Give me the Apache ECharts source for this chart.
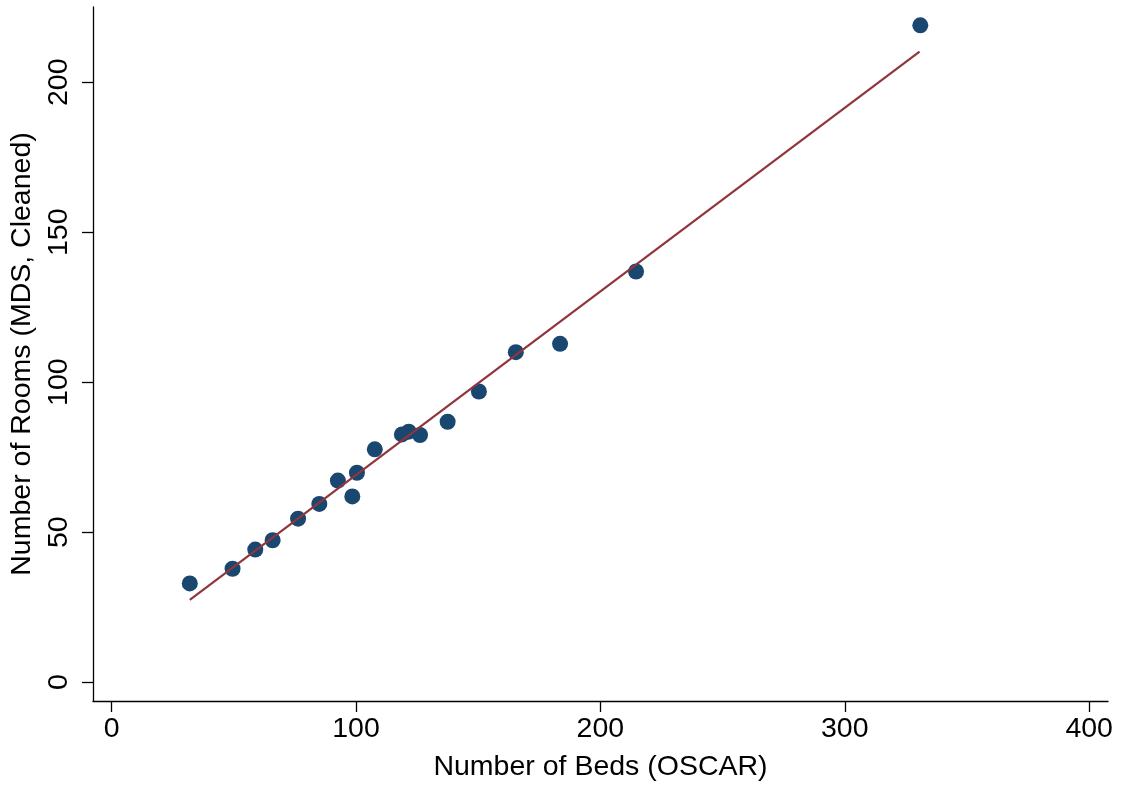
<!DOCTYPE html>
<html>
<head>
<meta charset="utf-8">
<title>Rooms vs Beds</title>
<script src="https://cdn.jsdelivr.net/npm/echarts@6/dist/echarts.min.js"></script>
<style>
  html, body { margin: 0; padding: 0; background: #fff; }
  #chart { width: 1121px; height: 787px; }
</style>
</head>
<body>
<div id="chart"></div>
<script>
// beds (OSCAR) and rooms (MDS, cleaned)
const beds  = [32, 49.5, 58.8, 65.9, 76.3, 85, 92.6, 98.5, 100.4, 107.7, 118.8, 121.6, 126.2, 137.5, 150.3, 165.4, 183.5, 214.6, 330.9];
const rooms = [32.9, 37.8, 44.2, 47.3, 54.5, 59.4, 67.2, 61.9, 69.8, 77.6, 82.6, 83.5, 82.4, 86.8, 96.9, 110.0, 112.8, 136.9, 219.0];

// fitted line endpoints
const fitX = [32, 330.6];
const fitY = [27.4, 210.2];

const xTicks = [0, 100, 200, 300, 400];
const yTicks = [0, 50, 100, 150, 200];

const points = beds.map((b, i) => [b, rooms[i]]);
const fitLine = fitX.map((x, i) => [x, fitY[i]]);

const font = 'Liberation Sans, Arial, sans-serif';
const fs = 28.5;
const axisCommon = {
  type: 'value',
  splitLine: { show: false },
  axisLine: { show: true, onZero: false, lineStyle: { color: '#000', width: 1.3 } },
  axisTick: { show: true, inside: false, length: 11, lineStyle: { color: '#000', width: 1.3 } },
  nameLocation: 'middle',
  nameTextStyle: { color: '#000', fontSize: fs, fontFamily: font }
};

let myChart = echarts.init(document.getElementById('chart'));
let option = {
  backgroundColor: '#fff',
  animation: false,
  grid: { left: 93, right: 13, top: 7, bottom: 82, containLabel: false },
  xAxis: Object.assign({}, axisCommon, {
    min: -7.6,
    max: 407.7,
    name: 'Number of Beds (OSCAR)',
    nameGap: 52,
    axisTick: Object.assign({}, axisCommon.axisTick, { customValues: xTicks }),
    axisLabel: { customValues: xTicks, margin: 14, color: '#000', fontSize: fs, fontFamily: font }
  }),
  yAxis: Object.assign({}, axisCommon, {
    min: -6.3,
    max: 225.1,
    name: 'Number of Rooms (MDS, Cleaned)',
    nameGap: 54,
    axisTick: Object.assign({}, axisCommon.axisTick, { customValues: yTicks }),
    axisLabel: { customValues: yTicks, rotate: 90, margin: 19, color: '#000', fontSize: fs, fontFamily: font }
  }),
  series: [
    {
      type: 'scatter',
      data: points,
      symbolSize: 16,
      itemStyle: { color: '#1a476f', opacity: 1 },
      z: 2
    },
    {
      type: 'line',
      data: fitLine,
      showSymbol: false,
      symbol: 'none',
      lineStyle: { color: '#90353b', width: 2.2 },
      z: 3
    }
  ]
};
myChart.setOption(option);
</script>
</body>
</html>
